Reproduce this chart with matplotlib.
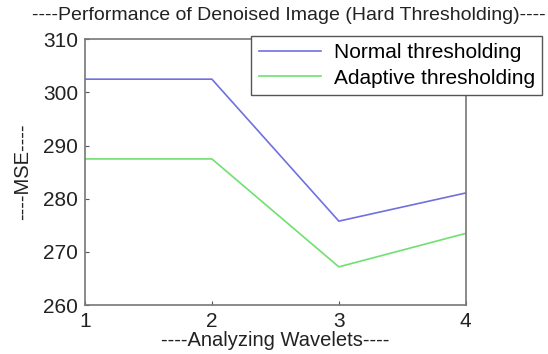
import matplotlib
matplotlib.use("Agg")
from matplotlib import pyplot as plt

# Data
wavelets = [1, 2, 3, 4]
normalMSE = [302.5, 302.5, 275.8, 281.1]
adaptiveMSE = [287.5, 287.5, 267.2, 273.5]
yTicks = [260, 270, 280, 290, 300, 310]

plt.rcParams['font.family'] = ['Liberation Sans', 'DejaVu Sans']

fig = plt.figure(figsize=(5.48, 3.54), dpi=100)
ax = fig.add_axes([0.155, 0.138, 0.695, 0.751])

ax.plot(wavelets, normalMSE, color='#7070e0', linewidth=1.2, label='Normal thresholding')
ax.plot(wavelets, adaptiveMSE, color='#70e070', linewidth=1.2, label='Adaptive thresholding')

ax.set_xlim(1, 4)
ax.set_ylim(260, 310)
ax.set_xticks(wavelets)
ax.set_yticks(yTicks)
ax.tick_params(direction='in', length=3, colors='#555555', labelcolor='#222222',
               labelsize=15, width=0.8, pad=5)

# gray frame like the MATLAB style
for s in ax.spines.values():
    s.set_color('#777777')
    s.set_linewidth(1.2)

# title placed in figure coords, the reference has it a bit right of center
fig.text(289 / 548, 1 - 15 / 354, '----Performance of Denoised Image (Hard Thresholding)----',
         fontsize=14, color='#222222', ha='center', va='center')
ax.set_xlabel('----Analyzing Wavelets----', fontsize=14.5, color='#222222', labelpad=0)
ax.set_ylabel('----MSE----', fontsize=14.5, color='#222222', labelpad=8)

leg = ax.legend(loc='upper right', bbox_to_anchor=(0.989, 0.898),
                bbox_transform=fig.transFigure, fontsize=15, handlelength=3.0,
                fancybox=False, framealpha=1, borderpad=0.35, labelspacing=0.3,
                handletextpad=0.6, borderaxespad=0)
leg.get_frame().set_edgecolor('#555555')
leg.get_frame().set_linewidth(1.0)

fig.savefig('out.png', dpi=100)
